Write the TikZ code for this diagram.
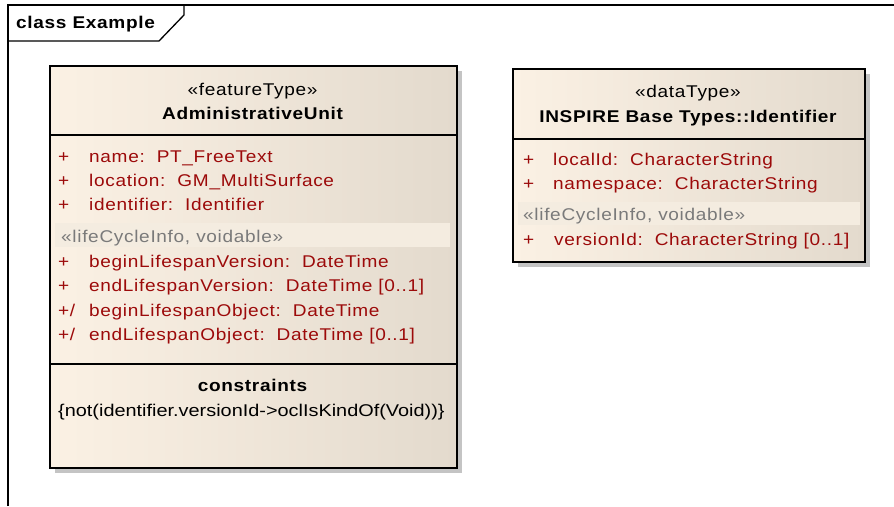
\documentclass[tikz,border=0pt]{standalone}
\usepackage{fontspec}
\setmainfont{Liberation Sans}[FakeStretch=1.12, LetterSpace=4]
\newfontfamily\consfont{Liberation Sans}[FakeStretch=1.17]
\definecolor{fillL}{HTML}{FBF1E4}
\definecolor{fillR}{HTML}{E3DACD}
\definecolor{bandC}{HTML}{F4ECE0}
\definecolor{attrC}{HTML}{9C0A0A}
\definecolor{grayT}{HTML}{7A7A7A}
\definecolor{shadowC}{HTML}{C4C4C4}
\begin{document}
\begin{tikzpicture}[x=1pt,y=-1pt,
  every node/.style={inner sep=0pt, font=\fontsize{17}{20}\selectfont},
  classbox/.style={draw=black, line width=1.6pt, left color=fillL, right color=fillR, shading angle=90},
  shadowbox/.style={fill=shadowC, draw=none},
  band/.style={fill=bandC, draw=none},
  attr/.style={anchor=base west, text=attrC},
  lc/.style={anchor=base west, text=grayT},
  hdr/.style={anchor=base, text=black},
  frameline/.style={draw=black, line width=1.3pt}
]
\useasboundingbox (0,0) rectangle (894,506);
% frame
\draw[frameline] (8,506) -- (8,5) -- (894,5);
\draw[frameline] (8,41) -- (159,41) -- (184,15) -- (184,5);
\node[anchor=base west, font=\fontsize{17}{20}\selectfont\bfseries] (title) at (16,28) {class Example};

% left class
\fill[shadowbox] (55,71) rectangle (462,473);
\node[classbox, anchor=north west, minimum width=407pt, minimum height=402pt] (au) at (49,65) {};
\draw[line width=1.6pt] (49,135) -- (456,135);
\draw[line width=1.6pt] (49,364) -- (456,364);
\fill[band] (55,223) rectangle (450,247);
\node[hdr] (austereo) at (252.5,95) {«featureType»};
\node[hdr, font=\fontsize{17}{20}\selectfont\bfseries] (auname) at (252.5,119) {AdministrativeUnit};
\node[attr] (p1) at (58,162) {+}; \node[attr] (a1) at (89,162) {name:\ \ PT\_FreeText};
\node[attr] (p2) at (58,186) {+}; \node[attr] (a2) at (89,186) {location:\ \ GM\_MultiSurface};
\node[attr] (p3) at (58,210) {+}; \node[attr] (a3) at (89,210) {identifier:\ \ Identifier};
\node[lc] (lc1) at (61,242) {«lifeCycleInfo, voidable»};
\node[attr] (p4) at (58,267) {+}; \node[attr] (a4) at (89,267) {beginLifespanVersion:\ \ DateTime};
\node[attr] (p5) at (58,291) {+}; \node[attr] (a5) at (89,291) {endLifespanVersion:\ \ DateTime [0..1]};
\node[attr] (p6) at (58,316) {+/}; \node[attr] (a6) at (89,316) {beginLifespanObject:\ \ DateTime};
\node[attr] (p7) at (58,340) {+/}; \node[attr] (a7) at (89,340) {endLifespanObject:\ \ DateTime [0..1]};
\node[hdr, font=\fontsize{17}{20}\selectfont\bfseries] (cons) at (252.5,391) {constraints};
\node[anchor=base west, font=\fontsize{17}{20}\consfont] (c1) at (58,416) {\{not(identifier.versionId->oclIsKindOf(Void))\}};

% right class
\fill[shadowbox] (518,74) rectangle (870,267);
\node[classbox, anchor=north west, minimum width=352pt, minimum height=193pt] (id) at (512,68) {};
\draw[line width=1.6pt] (512,139) -- (864,139);
\fill[band] (518,202) rectangle (860,225);
\node[hdr] (idstereo) at (688,97) {«dataType»};
\node[hdr, font=\fontsize{17}{20}\selectfont\bfseries] (idname) at (688,122) {INSPIRE Base Types::Identifier};
\node[attr] (q1) at (523,165) {+}; \node[attr] (b1) at (553,165) {localId:\ \ CharacterString};
\node[attr] (q2) at (523,189) {+}; \node[attr] (b2) at (553,189) {namespace:\ \ CharacterString};
\node[lc] (lc2) at (523,220) {«lifeCycleInfo, voidable»};
\node[attr] (q3) at (523,245) {+}; \node[attr] (b3) at (554,245) {versionId:\ \ CharacterString [0..1]};
\end{tikzpicture}
\end{document}
